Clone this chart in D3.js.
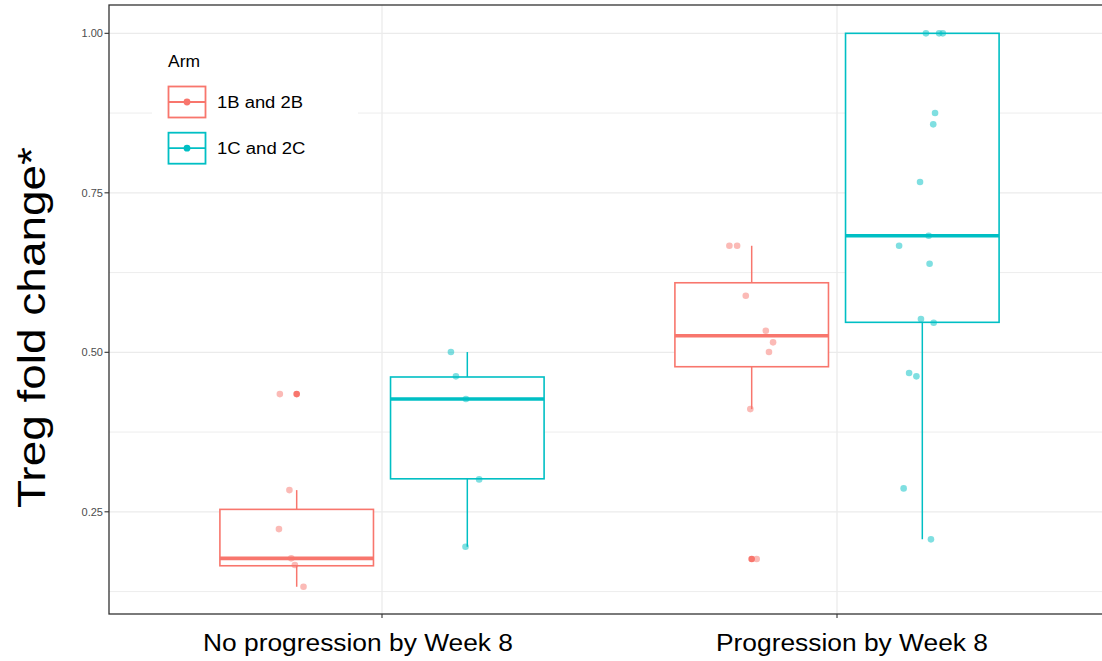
<!DOCTYPE html>
<meta charset="utf-8">

<style>
body { margin: 0; background: #fff; }
svg { display: block; font-family: "Liberation Sans", Arial, sans-serif; }

/* Grid properties */
.grid line { stroke: #ebebeb; }
.grid .minor { stroke-width: 0.9px; }
.grid .major { stroke-width: 1.3px; }

/* Tick labels */
.ytick text { fill: #4d4d4d; font-size: 11px; }
</style>

<svg width="1102" height="661"></svg>

<script src="https://cdn.jsdelivr.net/npm/d3@7"></script>
<script>

// Categories and arms
var categories = ["No progression by Week 8", "Progression by Week 8"];
var arms = ["1B and 2B", "1C and 2C"];
var armColors = ["#F8766D", "#00BFC4"];

// One box per (category, arm) group
var groupCategory = [0, 0, 1, 1];
var groupArm = [0, 1, 0, 1];

// Box statistics
var whiskerLow  = [0.1325, 0.1952, 0.4110, 0.2068];
var q1          = [0.1654, 0.3017, 0.4774, 0.5470];
var median      = [0.1770, 0.4267, 0.5260, 0.6827];
var q3          = [0.2538, 0.4613, 0.6090, 1.0000];
var whiskerHigh = [0.2840, 0.5004, 0.6670, 1.0000];
var outliers    = [[0.4345], [], [0.1759], []];

// Jittered observations per group (value, and jitter in category units)
var pointValues = [
  [0.4345, 0.2840, 0.2229, 0.1770, 0.1665, 0.1325],
  [0.5004, 0.4623, 0.4267, 0.3008, 0.1952],
  [0.6670, 0.6670, 0.5887, 0.5338, 0.5156, 0.5004, 0.4110, 0.1759],
  [1.0000, 1.0000, 1.0000, 0.8750, 0.8573, 0.7669, 0.6827, 0.6670, 0.6388,
   0.5521, 0.5463, 0.4675, 0.4623, 0.2867, 0.2068]
];
var pointJitter = [
  [-0.037, -0.016, -0.039, -0.012, -0.004, 0.015],
  [-0.036, -0.025, -0.003, 0.026, -0.004],
  [-0.049, -0.032, -0.013, 0.031, 0.047, 0.038, -0.003, 0.011],
  [0.008, 0.037, 0.045, 0.028, 0.024, -0.005, 0.014, -0.051, 0.016,
   -0.003, 0.025, -0.029, -0.013, -0.041, 0.019]
];

var yTicks = [0.25, 0.50, 0.75, 1.00];
var yMinor = [0.125, 0.375, 0.625, 0.875];

var svg = d3.select("svg");

// Panel box (right edge runs past the picture)
var pLeft = 109, pRight = 1110, pTop = 5, pBottom = 614;

var x = d3.scalePoint()
    .domain(categories)
    .range([pLeft, pRight])
    .padding(0.6);

var y = d3.scaleLinear()
    .domain([0.0898, 1.0444])
    .range([pBottom, pTop]);

var unit = x.step();
var dodge = 0.375, boxWidth = 0.3375;

function groupCenter(i) {
  return x(categories[groupCategory[i]]) + (groupArm[i] - 0.5) * dodge * unit;
}

// Grid lines
var grid = svg.append("g").attr("class", "grid");

grid.selectAll("line.minor")
  .data(yMinor)
  .enter().append("line")
    .attr("class", "minor")
    .attr("x1", pLeft).attr("x2", pRight)
    .attr("y1", function(d) { return y(d); })
    .attr("y2", function(d) { return y(d); });

grid.selectAll("line.major")
  .data(yTicks)
  .enter().append("line")
    .attr("class", "major")
    .attr("x1", pLeft).attr("x2", pRight)
    .attr("y1", function(d) { return y(d); })
    .attr("y2", function(d) { return y(d); });

grid.selectAll("line.vmajor")
  .data(categories)
  .enter().append("line")
    .attr("class", "major")
    .attr("x1", function(d) { return x(d); })
    .attr("x2", function(d) { return x(d); })
    .attr("y1", pTop).attr("y2", pBottom);

// Boxplots
var groups = d3.range(groupCategory.length);
var boxes = svg.append("g").attr("class", "boxes");

boxes.selectAll("line.whisker")
  .data(groups)
  .enter().append("line")
    .attr("x1", groupCenter).attr("x2", groupCenter)
    .attr("y1", function(i) { return y(whiskerLow[i]); })
    .attr("y2", function(i) { return y(whiskerHigh[i]); })
    .attr("stroke", function(i) { return armColors[groupArm[i]]; })
    .attr("stroke-width", 1.5);

boxes.selectAll("rect")
  .data(groups)
  .enter().append("rect")
    .attr("x", function(i) { return groupCenter(i) - boxWidth * unit / 2; })
    .attr("width", boxWidth * unit)
    .attr("y", function(i) { return y(q3[i]); })
    .attr("height", function(i) { return y(q1[i]) - y(q3[i]); })
    .attr("fill", "#fff")
    .attr("stroke", function(i) { return armColors[groupArm[i]]; })
    .attr("stroke-width", 1.6);

boxes.selectAll("line.median")
  .data(groups)
  .enter().append("line")
    .attr("x1", function(i) { return groupCenter(i) - boxWidth * unit / 2; })
    .attr("x2", function(i) { return groupCenter(i) + boxWidth * unit / 2; })
    .attr("y1", function(i) { return y(median[i]); })
    .attr("y2", function(i) { return y(median[i]); })
    .attr("stroke", function(i) { return armColors[groupArm[i]]; })
    .attr("stroke-width", 3.6);

// Outliers drawn by the boxplot at the box centre
var outlierData = [];
groups.forEach(function(i) {
  outlierData = outlierData.concat(outliers[i].map(function(v) { return {g: i, v: v}; }));
});

boxes.selectAll("circle.outlier")
  .data(outlierData)
  .enter().append("circle")
    .attr("cx", function(d) { return groupCenter(d.g); })
    .attr("cy", function(d) { return y(d.v); })
    .attr("r", 3.3)
    .attr("fill", function(d) { return armColors[groupArm[d.g]]; });

// Jittered points
var pointData = [];
groups.forEach(function(i) {
  pointValues[i].forEach(function(v, k) {
    pointData.push({g: i, v: v, j: pointJitter[i][k]});
  });
});

svg.append("g").attr("class", "points")
  .selectAll("circle")
  .data(pointData)
  .enter().append("circle")
    .attr("cx", function(d) { return groupCenter(d.g) + d.j * unit; })
    .attr("cy", function(d) { return y(d.v); })
    .attr("r", 3.3)
    .attr("fill", function(d) { return armColors[groupArm[d.g]]; })
    .attr("fill-opacity", 0.5);

// Panel border
svg.append("rect")
    .attr("x", pLeft).attr("y", pTop)
    .attr("width", pRight - pLeft).attr("height", pBottom - pTop)
    .attr("fill", "none")
    .attr("stroke", "#333")
    .attr("stroke-width", 1.3);

// Y axis ticks and labels
var yt = svg.append("g").attr("class", "ytick")
  .selectAll("g")
  .data(yTicks)
  .enter().append("g")
    .attr("transform", function(d) { return "translate(0," + y(d) + ")"; });

yt.append("line")
    .attr("x1", pLeft - 4.5).attr("x2", pLeft)
    .attr("stroke", "#333").attr("stroke-width", 1.1);

yt.append("text")
    .attr("x", pLeft - 6)
    .attr("dy", "0.35em")
    .attr("text-anchor", "end")
    .text(function(d) { return d3.format(".2f")(d); });

// X axis ticks and labels (labels sit a little off the tick in the original)
var labelShift = [-24, 15];
var labelWidth = [310, 272];

var xt = svg.append("g").attr("class", "xtick")
  .selectAll("g")
  .data(categories)
  .enter().append("g")
    .attr("transform", function(d) { return "translate(" + x(d) + "," + pBottom + ")"; });

xt.append("line")
    .attr("y1", 0).attr("y2", 4)
    .attr("stroke", "#333").attr("stroke-width", 1.1);

xt.append("text")
    .attr("x", function(d, i) { return labelShift[i] - labelWidth[i] / 2; })
    .attr("y", 37)
    .attr("font-size", 23)
    .attr("fill", "#000")
    .attr("textLength", function(d, i) { return labelWidth[i]; })
    .attr("lengthAdjust", "spacingAndGlyphs")
    .text(function(d) { return d; });

// Y axis title
svg.append("text")
    .attr("transform", "translate(45,327.5) rotate(-90)")
    .attr("text-anchor", "middle")
    .attr("font-size", 38)
    .attr("fill", "#000")
    .attr("textLength", 361)
    .attr("lengthAdjust", "spacingAndGlyphs")
    .text("Treg fold change*");

// Legend
var legend = svg.append("g").attr("class", "legend");

legend.append("rect")
    .attr("x", 152).attr("y", 40)
    .attr("width", 206).attr("height", 138)
    .attr("fill", "#fff");

legend.append("text")
    .attr("x", 168).attr("y", 66.7)
    .attr("font-size", 16)
    .attr("textLength", 32)
    .attr("lengthAdjust", "spacingAndGlyphs")
    .text("Arm");

var keyTop = [86.5, 132.7];
var keyTextWidth = [86, 88.5];

var key = legend.selectAll("g.key")
  .data(arms)
  .enter().append("g")
    .attr("class", "key")
    .attr("transform", function(d, i) { return "translate(168," + keyTop[i] + ")"; });

key.append("rect")
    .attr("x", 0.5).attr("y", 0)
    .attr("width", 37).attr("height", 31)
    .attr("fill", "#fff")
    .attr("stroke", function(d, i) { return armColors[i]; })
    .attr("stroke-width", 1.8);

key.append("line")
    .attr("x1", 0.5).attr("x2", 37.5)
    .attr("y1", 15.5).attr("y2", 15.5)
    .attr("stroke", function(d, i) { return armColors[i]; })
    .attr("stroke-width", 1.8);

key.append("circle")
    .attr("cx", 19).attr("cy", 15.5)
    .attr("r", 3.4)
    .attr("fill", function(d, i) { return armColors[i]; });

key.append("text")
    .attr("x", 49).attr("y", 21.3)
    .attr("font-size", 16)
    .attr("textLength", function(d, i) { return keyTextWidth[i]; })
    .attr("lengthAdjust", "spacingAndGlyphs")
    .text(function(d) { return d; });

</script>
